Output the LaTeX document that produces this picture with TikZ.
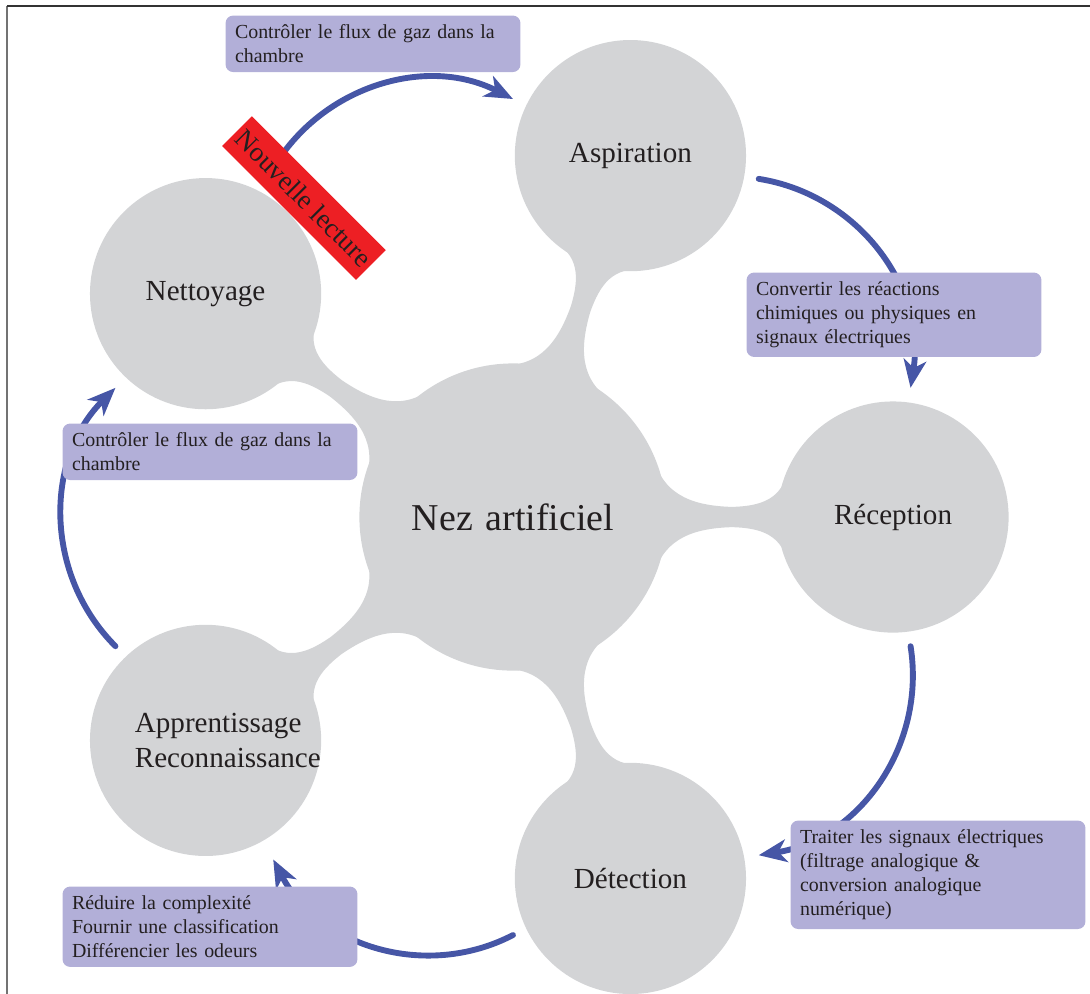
\documentclass[tikz,border=0pt]{standalone}
\usepackage{fontspec}
\setmainfont{Liberation Serif}
\usetikzlibrary{mindmap,arrows.meta}
\definecolor{mmgray}{RGB}{211,212,214}
\definecolor{arrowblue}{RGB}{70,86,166}
\definecolor{boxlav}{RGB}{178,175,216}
\definecolor{notered}{RGB}{237,31,36}
\definecolor{inktext}{RGB}{35,31,32}
\begin{document}
\begin{tikzpicture}[
  cycarrow/.style={draw=arrowblue, line width=2.2pt, line cap=round, -{Stealth[length=10.5pt,width=8.5pt,inset=3pt]}},
  infobox/.style={fill=boxlav, rounded corners=0.1cm, anchor=north west, text width=3.63cm, align=left, inner xsep=0.125cm, inner ysep=0.12cm, font=\fontsize{7.45}{9}\selectfont, text=inktext},
  notebox/.style={fill=notered, rotate=-45, minimum width=2.49cm, minimum height=0.553cm, inner sep=0pt, font=\fontsize{10.2}{12}\selectfont, text=inktext},
  rootfont/.style={font=\fontsize{14.2}{17}\selectfont, text=inktext},
  childfont/.style={font=\fontsize{10.9}{13.1}\selectfont, text=inktext}
]
\useasboundingbox (-6.75,-6.263) rectangle (7.592,6.803);
% frame lines
\draw[line width=0.7pt, black!55] (-6.658,-6.4) -- (-6.658,6.724);
\draw[line width=0.7pt, black!80] (-6.658,6.724) -- (7.7,6.724);

% mind map
\begin{scope}[mindmap, concept color=mmgray,
  root concept/.append style={minimum size=4cm, text width=3.6cm, align=center},
  level 1 concept/.append style={minimum size=3cm, text width=1.86cm, align=center},
  level 1/.append style={level distance=5cm}]
\node[concept, rootfont] (root) at (0,0) {Nez artificiel}
  child[grow=72] {node[concept, childfont] (asp) {Aspiration}}
  child[grow=0] {node[concept, childfont] (rec) {Réception}}
  child[grow=-72] {node[concept, childfont] (det) {Détection}}
  child[grow=-144] {node[concept, childfont] (app) {\mbox{Apprentissage}\\\mbox{Reconnaissance}}}
  child[grow=144] {node[concept, childfont] (net) {Nettoyage}};
\end{scope}

% cycle arrows
\coordinate (a1) at (126:5.5);
\coordinate (b1) at (90:5.5);
\coordinate (a2) at (54:5.5);
\coordinate (b2) at (18:5.5);
\coordinate (a3) at (-18:5.5);
\coordinate (b3) at (-54:5.5);
\coordinate (a4) at (-90:5.5);
\coordinate (b4) at (-125:5.5);
\coordinate (a5) at (198:5.5);
\coordinate (b5) at (162:5.5);
\draw[cycarrow] (a1) to[bend left=45] (b1);
\draw[cycarrow] (a2) to[bend left=45] (b2);
\draw[cycarrow] (a3) to[bend left=45] (b3);
\draw[cycarrow] (a4) to[bend left=45] (b4);
\draw[cycarrow] (a5) to[bend left=45] (b5);

% info boxes
\node[infobox] (i1) at (-3.789,6.605) {Contrôler le flux de gaz dans la\\chambre};
\node[infobox] (i2) at (3.066,3.224) {Convertir les réactions\\chimiques ou physiques en\\signaux électriques};
\node[infobox] (i3) at (-5.934,1.237) {Contrôler le flux de gaz dans la\\chambre};
\node[infobox] (i4) at (3.645,-3.987) {Traiter les signaux électriques\\(filtrage analogique \&\\conversion analogique\\numérique)};
\node[infobox] (i5) at (-5.934,-4.855) {Réduire la complexité\\Fournir une classification\\Différencier les odeurs};

% note
\node[notebox] (nl) at (-2.75,4.197) {Nouvelle lecture};
\end{tikzpicture}
\end{document}
